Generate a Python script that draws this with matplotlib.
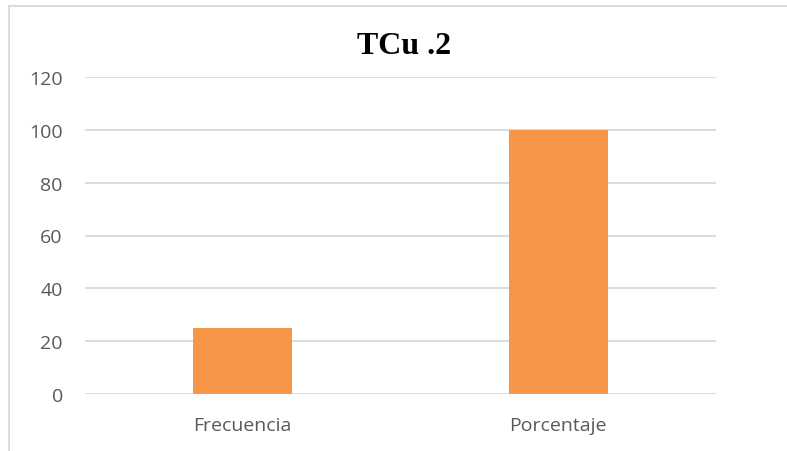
import matplotlib
matplotlib.use("Agg")
import matplotlib.pyplot as plt
from matplotlib.lines import Line2D

categories = ["Frecuencia", "Porcentaje"]
values = [25, 100]
yticks = [0, 20, 40, 60, 80, 100, 120]
title = "TCu .2"

W, H = 787, 452
fig = plt.figure(figsize=(W / 100, H / 100), dpi=100)
fig.patch.set_facecolor("white")

ax = fig.add_axes([85 / W, 1 - 395 / H, (716 - 85) / W, (395 - 78) / H])
x = list(range(len(categories)))
ax.bar(x, values, width=0.314, color="#F79646", zorder=3)
ax.set_xlim(-0.5, len(categories) - 0.5)
ax.set_ylim(0, 120)
ax.set_yticks(yticks)
ax.set_xticks(x)
ax.set_xticklabels(categories)
for s in ax.spines.values():
    s.set_visible(False)
ax.grid(axis="y", color="#D9D9D9", linewidth=1.3, zorder=0)
ax.tick_params(axis="both", length=0, labelcolor="#595959")
ax.tick_params(axis="y", pad=16)
ax.tick_params(axis="x", pad=16)
for lab in ax.get_xticklabels() + ax.get_yticklabels():
    lab.set_fontfamily(["Open Sans", "DejaVu Sans"])
    lab.set_fontsize(14)

fig.text(404 / W, 1 - 47 / H, title, ha="center", va="center",
         fontsize=23, fontweight="bold", family=["Liberation Serif", "DejaVu Serif"], color="black")

# chart border (left and top visible)
fig.add_artist(Line2D([8.5 / W, 8.5 / W], [0, 1 - 6.5 / H], transform=fig.transFigure,
                      color="#D9D9D9", linewidth=1.3))
fig.add_artist(Line2D([8.5 / W, 1], [1 - 6.5 / H, 1 - 6.5 / H], transform=fig.transFigure,
                      color="#D9D9D9", linewidth=1.3))

fig.savefig("out.png", dpi=100)
